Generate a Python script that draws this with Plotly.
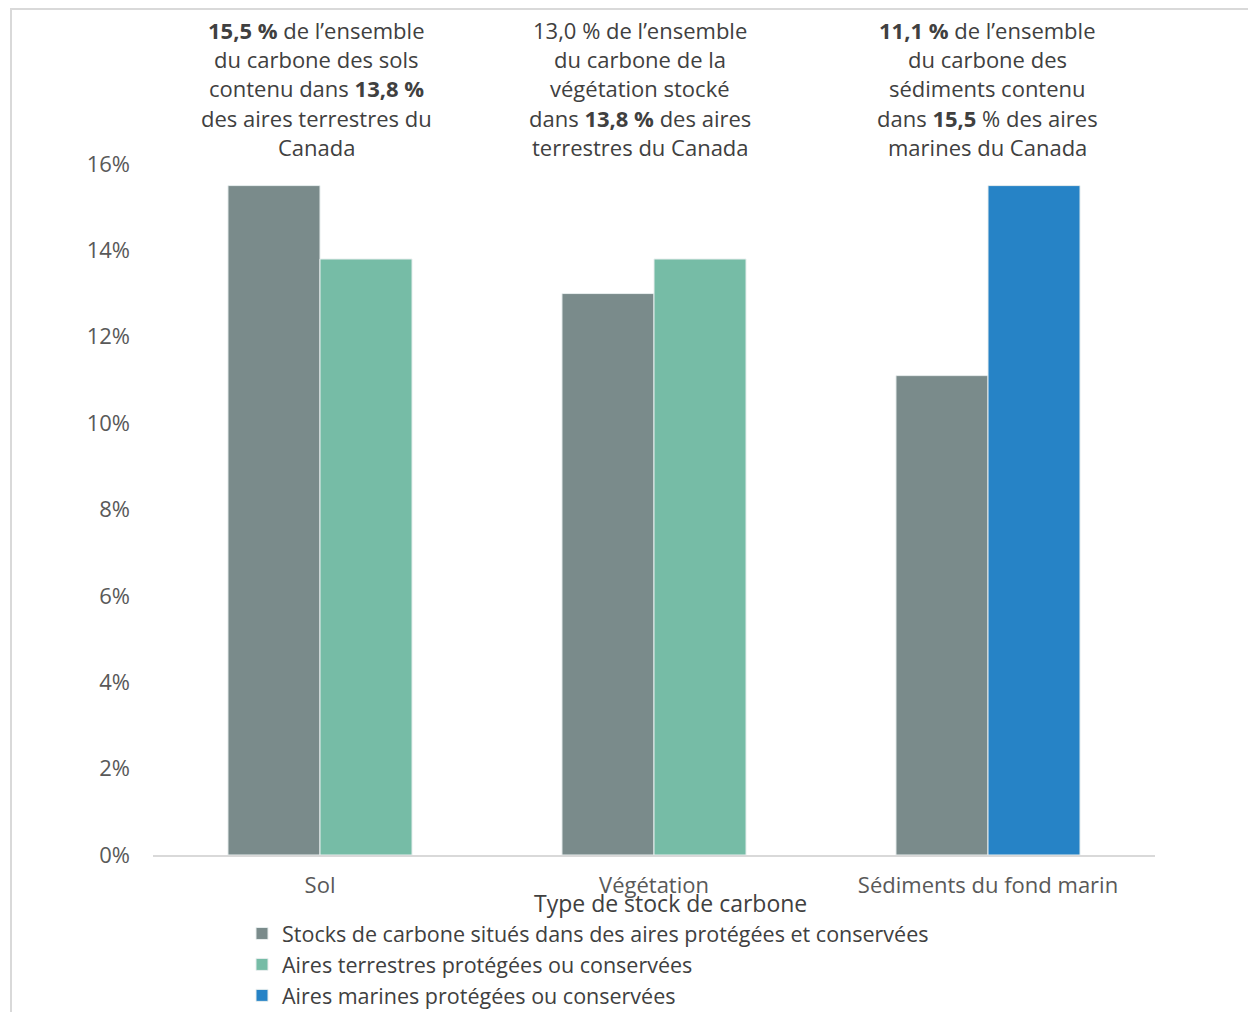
import plotly.graph_objects as go

categories = ["Sol", "Végétation", "Sédiments du fond marin"]
series_names = [
    "Stocks de carbone situés dans des aires protégées et conservées",
    "Aires terrestres protégées ou conservées",
    "Aires marines protégées ou conservées",
]
stocks = [15.5, 13.0, 11.1]
terrestres = [13.8, 13.8, None]
marines = [None, None, 15.5]
y_ticks = [0, 2, 4, 6, 8, 10, 12, 14, 16]
y_tick_labels = ["0%", "2%", "4%", "6%", "8%", "10%", "12%", "14%", "16%"]

notes = [
    ["<b>15,5 %</b> de l’ensemble", "du carbone des sols", "contenu dans <b>13,8 %</b>",
     "des aires terrestres du", "Canada"],
    ["13,0 % de l’ensemble", "du carbone de la", "végétation stocké",
     "dans <b>13,8 %</b> des aires", "terrestres du Canada"],
    ["<b>11,1 %</b> de l’ensemble", "du carbone des", "sédiments contenu",
     "dans <b>15,5</b> % des aires", "marines du Canada"],
]

W, H = 1248, 1012
L, R, T, B = 153, 93, 164, 157
pw, ph = W - L - R, H - T - B

def px(x):
    return (x - L) / pw

def py(y):
    return 1 - (y - T) / ph

FONT = "Open Sans"
GRAY_TXT = "#595959"
DARK_TXT = "#404040"
FS = 22

fig = go.Figure()
fig.add_bar(x=categories, y=stocks, name=series_names[0], marker_color="#7a8b8b",
            offsetgroup="a", marker_line=dict(color="#e8eeee", width=1))
fig.add_bar(x=categories, y=terrestres, name=series_names[1], marker_color="#76bca6",
            offsetgroup="b", marker_line=dict(color="#e8eeee", width=1))
fig.add_bar(x=categories, y=marines, name=series_names[2], marker_color="#2683c6",
            offsetgroup="b", marker_line=dict(color="#e8eeee", width=1))

annotations = []
centers = [316, 640, 987]
line_y = [30, 59, 88, 118, 147]
for cx, lines in zip(centers, notes):
    for ly, txt in zip(line_y, lines):
        annotations.append(dict(
            x=px(cx), y=py(ly), xref="paper", yref="paper", text=txt,
            showarrow=False, xanchor="center", yanchor="middle",
            font=dict(family=FONT, size=FS, color=DARK_TXT)))

annotations.append(dict(
    x=px(670), y=py(903), xref="paper", yref="paper", text="Type de stock de carbone",
    showarrow=False, xanchor="center", yanchor="middle",
    font=dict(family=FONT, size=23, color=DARK_TXT)))

shapes = [dict(type="rect", xref="paper", yref="paper",
               x0=px(11), x1=px(1300), y0=py(1100), y1=py(9),
               line=dict(color="#d9d9d9", width=2), fillcolor="rgba(0,0,0,0)", layer="below")]

fig.update_layout(
    width=W, height=H,
    margin=dict(l=L, r=R, t=T, b=B, autoexpand=False),
    paper_bgcolor="white", plot_bgcolor="white",
    barmode="group", bargap=0.449, bargroupgap=0,
    font=dict(family=FONT, size=FS, color=GRAY_TXT),
    showlegend=True,
    legend=dict(x=px(242), y=py(913), xref="paper", yref="paper",
                xanchor="left", yanchor="top", orientation="v",
                font=dict(family=FONT, size=21.5, color=DARK_TXT),
                bgcolor="rgba(0,0,0,0)", tracegroupgap=0, itemwidth=30,
                traceorder="normal"),
    annotations=annotations,
    shapes=shapes,
)
fig.update_xaxes(showline=True, linecolor="#d9d9d9", linewidth=2, showgrid=False,
                 ticks="", ticklabelstandoff=10,
                 tickfont=dict(family=FONT, size=FS, color=GRAY_TXT),
                 zeroline=False, fixedrange=True)
fig.update_yaxes(range=[0, 16], tickvals=y_ticks, ticktext=y_tick_labels,
                 showgrid=False, showline=False, zeroline=False, ticks="",
                 ticklabelstandoff=22,
                 tickfont=dict(family=FONT, size=FS, color=GRAY_TXT), fixedrange=True)

fig.write_html("out.html")
